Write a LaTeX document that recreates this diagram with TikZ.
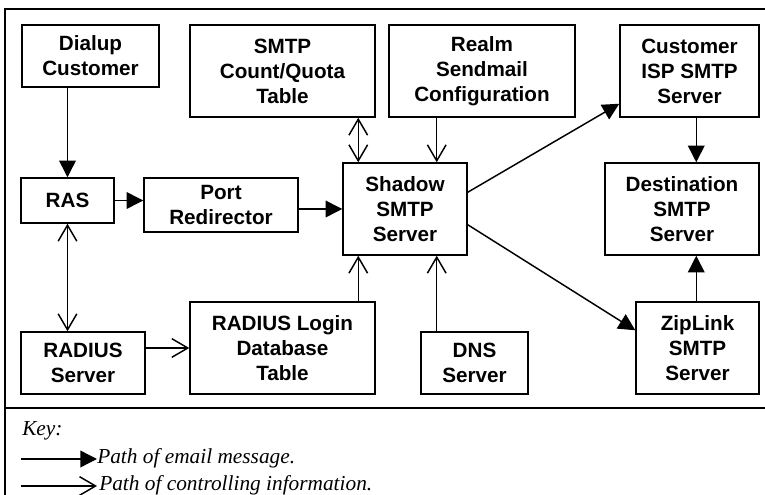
\documentclass[tikz,border=0pt]{standalone}
\usepackage{fontspec}
\setmainfont{Liberation Serif}
\setsansfont{Liberation Sans}
\usetikzlibrary{arrows.meta,calc}
\begin{document}
\begin{tikzpicture}[x=0.75pt,y=-0.75pt,
  box/.style={draw=black,line width=1.1pt,inner sep=0pt,align=center,
    font=\sffamily\bfseries\fontsize{15.5}{18.75}\selectfont},
  keytext/.style={inner sep=0pt,font=\itshape\fontsize{16}{19}\selectfont},
  conn/.style={line width=1.1pt},
  email/.style={conn,-{Triangle[length=12.5pt,width=12.5pt]}},
  ctrl/.style={conn,-{Straight Barb[length=12pt,width=14pt]}},
  ctrltwo/.style={conn,{Straight Barb[length=12pt,width=14pt]}-{Straight Barb[length=12pt,width=14pt]}}]
\useasboundingbox (0,0) rectangle (765,495);
\draw[line width=1.1pt] (5,9) rectangle (770,500);
\draw[line width=1.7pt] (5,408) -- (770,408);

\node[box,minimum width=137*0.75pt,minimum height=62*0.75pt] (dialup) at (90.5,56) {Dialup\\Customer};
\node[box,minimum width=185*0.75pt,minimum height=92*0.75pt] (count) at (282.5,71) {SMTP\\Count/Quota\\Table};
\node[box,minimum width=186*0.75pt,minimum height=92*0.75pt] (realm) at (482,71) {Realm\\Sendmail\\Configuration};
\node[box,minimum width=139*0.75pt,minimum height=92*0.75pt] (custisp) at (689.5,71) {Customer\\ISP SMTP\\Server};
\node[box,minimum width=93*0.75pt,minimum height=45*0.75pt] (ras) at (67.5,200.5) {RAS};
\node[box,minimum width=154*0.75pt,minimum height=54*0.75pt] (port) at (221,205) {Port\\Redirector};
\node[box,minimum width=124*0.75pt,minimum height=92*0.75pt] (shadow) at (405,209) {Shadow\\SMTP\\Server};
\node[box,minimum width=154*0.75pt,minimum height=92*0.75pt] (dest) at (682,209) {Destination\\SMTP\\Server};
\node[box,minimum width=124*0.75pt,minimum height=62*0.75pt] (radius) at (83,363) {RADIUS\\Server};
\node[box,minimum width=185*0.75pt,minimum height=92*0.75pt] (login) at (282.5,348) {RADIUS Login\\Database\\Table};
\node[box,minimum width=107*0.75pt,minimum height=62*0.75pt] (dns) at (474.5,363) {DNS\\Server};
\node[box,minimum width=123*0.75pt,minimum height=92*0.75pt] (zip) at (697.5,348) {ZipLink\\SMTP\\Server};

\coordinate (a1) at ($(shadow.north west)+(16,0)$);
\coordinate (a2) at ($(shadow.north east)+(-31,0)$);
\coordinate (s1) at ($(shadow.north east)+(0,30)$);
\coordinate (c1) at ($(custisp.south west)+(0,-14)$);
\coordinate (s2) at ($(shadow.south east)+(0,-31)$);
\coordinate (z1) at ($(zip.north west)+(0,29)$);
\coordinate (d1) at ($(custisp.south west)+(77,0)$);

\draw[email] (ras.north |- dialup.south) -- (ras.north);
\draw[email] (ras.east) -- (port.west |- ras.east);
\draw[email] (port.east |- shadow.west) -- (shadow.west);
\draw[ctrltwo] (count.south -| a1) -- (a1);
\draw[ctrl] (realm.south -| a2) -- (a2);
\draw[email] (s1) -- (c1);
\draw[email] (d1) -- (dest.north -| d1);
\draw[email] (s2) -- (z1);
\draw[email] (zip.north -| d1) -- (dest.south -| d1);
\draw[ctrltwo] (ras.south) -- (ras.south |- radius.north);
\draw[ctrl] (radius.east |- login.west) -- (login.west);
\draw[ctrl] (login.north -| a1) -- (shadow.south -| a1);
\draw[ctrl] (dns.north -| a2) -- (shadow.south -| a2);

\node[keytext,anchor=base west] (key) at (22,436) {Key:};
\node[keytext,anchor=base west] (k1) at (97,464) {Path of email message.};
\node[keytext,anchor=base west] (k2) at (99,491) {Path of controlling information.};
\coordinate (k1s) at (21,459);
\coordinate (k1e) at (97,459);
\coordinate (k2s) at (21,486);
\coordinate (k2e) at (97,486);
\draw[email] (k1s) -- (k1e);
\draw[ctrl] (k2s) -- (k2e);
\end{tikzpicture}
\end{document}
